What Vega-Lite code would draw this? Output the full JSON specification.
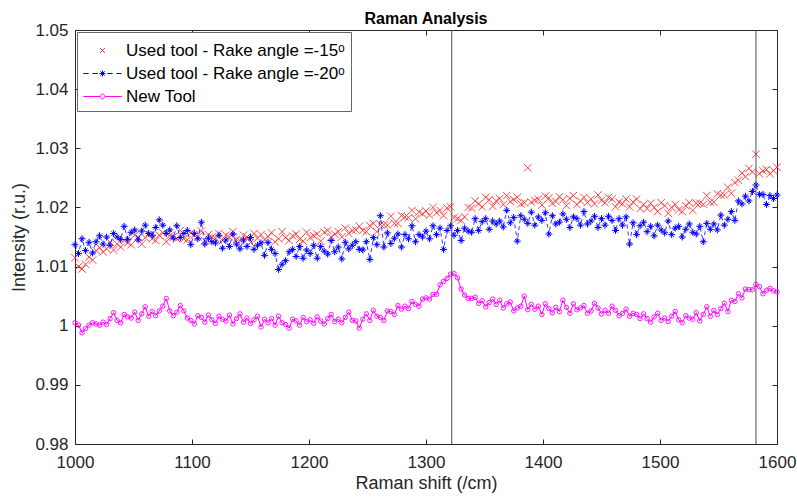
{
"$schema": "https://vega.github.io/schema/vega-lite/v6.json",
"width": 702, "height": 414,
"autosize": {"type": "none"},
"padding": {"left": 75, "top": 30, "right": 20, "bottom": 55},
"background": "white",
"title": {"text": "Raman Analysis", "font": "Liberation Sans", "fontSize": 16, "fontWeight": "bold", "color": "#000000", "anchor": "middle", "offset": -6},
"config": {"view": {"stroke": "#262626", "strokeWidth": 1}},
"datasets": {"spec": [
{"x":1000,"r":1.0115,"b":1.0137,"m":1.0005},{"x":1003,"r":1.0100,"b":1.0122,"m":1.0001},{"x":1006,"r":1.0096,"b":1.0147,"m":0.9988},{"x":1009,"r":1.0104,"b":1.0127,"m":0.9995},{"x":1012,"r":1.0116,"b":1.0141,"m":1.0001},{"x":1015,"r":1.0111,"b":1.0123,"m":1.0005},{"x":1018,"r":1.0127,"b":1.0142,"m":1.0003},{"x":1021,"r":1.0132,"b":1.0152,"m":1.0001},{"x":1024,"r":1.0125,"b":1.0138,"m":1.0006},{"x":1027,"r":1.0130,"b":1.0150,"m":1.0002},
{"x":1030,"r":1.0141,"b":1.0136,"m":1.0012},{"x":1033,"r":1.0128,"b":1.0156,"m":1.0022},{"x":1036,"r":1.0138,"b":1.0150,"m":1.0009},{"x":1039,"r":1.0133,"b":1.0146,"m":1.0005},{"x":1042,"r":1.0144,"b":1.0168,"m":1.0019},{"x":1045,"r":1.0140,"b":1.0146,"m":1.0015},{"x":1048,"r":1.0137,"b":1.0158,"m":1.0013},{"x":1051,"r":1.0153,"b":1.0162,"m":1.0023},{"x":1054,"r":1.0149,"b":1.0145,"m":1.0009},{"x":1057,"r":1.0138,"b":1.0160,"m":1.0020},
{"x":1060,"r":1.0149,"b":1.0170,"m":1.0032},{"x":1063,"r":1.0154,"b":1.0156,"m":1.0016},{"x":1066,"r":1.0147,"b":1.0153,"m":1.0024},{"x":1069,"r":1.0144,"b":1.0166,"m":1.0017},{"x":1072,"r":1.0153,"b":1.0179,"m":1.0025},{"x":1075,"r":1.0157,"b":1.0170,"m":1.0033},{"x":1078,"r":1.0142,"b":1.0156,"m":1.0046},{"x":1081,"r":1.0152,"b":1.0162,"m":1.0025},{"x":1084,"r":1.0150,"b":1.0148,"m":1.0017},{"x":1087,"r":1.0147,"b":1.0169,"m":1.0023},
{"x":1090,"r":1.0161,"b":1.0149,"m":1.0034},{"x":1093,"r":1.0147,"b":1.0156,"m":1.0025},{"x":1096,"r":1.0145,"b":1.0161,"m":1.0013},{"x":1099,"r":1.0157,"b":1.0137,"m":1.0009},{"x":1102,"r":1.0153,"b":1.0156,"m":1.0003},{"x":1105,"r":1.0150,"b":1.0147,"m":1.0017},{"x":1108,"r":1.0160,"b":1.0175,"m":1.0014},{"x":1111,"r":1.0144,"b":1.0138,"m":1.0006},{"x":1114,"r":1.0154,"b":1.0148,"m":1.0018},{"x":1117,"r":1.0150,"b":1.0142,"m":1.0010},
{"x":1120,"r":1.0148,"b":1.0140,"m":1.0004},{"x":1123,"r":1.0156,"b":1.0153,"m":1.0016},{"x":1126,"r":1.0144,"b":1.0131,"m":1.0011},{"x":1129,"r":1.0153,"b":1.0145,"m":1.0008},{"x":1132,"r":1.0150,"b":1.0134,"m":1.0018},{"x":1135,"r":1.0159,"b":1.0155,"m":1.0003},{"x":1138,"r":1.0146,"b":1.0138,"m":1.0012},{"x":1141,"r":1.0144,"b":1.0130,"m":1.0020},{"x":1144,"r":1.0153,"b":1.0145,"m":1.0006},{"x":1147,"r":1.0150,"b":1.0134,"m":1.0013},
{"x":1150,"r":1.0141,"b":1.0149,"m":1.0004},{"x":1153,"r":1.0156,"b":1.0129,"m":1.0010},{"x":1156,"r":1.0148,"b":1.0136,"m":1.0016},{"x":1159,"r":1.0154,"b":1.0140,"m":0.9998},{"x":1162,"r":1.0145,"b":1.0119,"m":1.0011},{"x":1165,"r":1.0151,"b":1.0141,"m":1.0005},{"x":1168,"r":1.0157,"b":1.0129,"m":1.0012},{"x":1171,"r":1.0142,"b":1.0122,"m":1.0001},{"x":1174,"r":1.0147,"b":1.0095,"m":1.0016},{"x":1177,"r":1.0159,"b":1.0104,"m":1.0005},
{"x":1180,"r":1.0149,"b":1.0110,"m":1.0002},{"x":1183,"r":1.0144,"b":1.0125,"m":0.9996},{"x":1186,"r":1.0152,"b":1.0129,"m":1.0011},{"x":1189,"r":1.0155,"b":1.0117,"m":1.0008},{"x":1192,"r":1.0146,"b":1.0134,"m":1.0001},{"x":1195,"r":1.0143,"b":1.0114,"m":1.0014},{"x":1198,"r":1.0158,"b":1.0128,"m":1.0007},{"x":1201,"r":1.0149,"b":1.0122,"m":1.0010},{"x":1204,"r":1.0152,"b":1.0136,"m":1.0004},{"x":1207,"r":1.0155,"b":1.0114,"m":1.0015},
{"x":1210,"r":1.0143,"b":1.0134,"m":1.0008},{"x":1213,"r":1.0158,"b":1.0126,"m":1.0003},{"x":1216,"r":1.0161,"b":1.0121,"m":1.0012},{"x":1219,"r":1.0150,"b":1.0144,"m":1.0019},{"x":1222,"r":1.0155,"b":1.0125,"m":1.0007},{"x":1225,"r":1.0159,"b":1.0133,"m":1.0011},{"x":1228,"r":1.0150,"b":1.0113,"m":1.0005},{"x":1231,"r":1.0165,"b":1.0141,"m":1.0014},{"x":1234,"r":1.0156,"b":1.0130,"m":1.0023},{"x":1237,"r":1.0161,"b":1.0136,"m":1.0009},
{"x":1240,"r":1.0162,"b":1.0142,"m":1.0008},{"x":1243,"r":1.0168,"b":1.0129,"m":0.9996},{"x":1246,"r":1.0161,"b":1.0128,"m":1.0011},{"x":1249,"r":1.0159,"b":1.0142,"m":1.0020},{"x":1252,"r":1.0169,"b":1.0112,"m":1.0009},{"x":1255,"r":1.0173,"b":1.0149,"m":1.0026},{"x":1258,"r":1.0159,"b":1.0137,"m":1.0016},{"x":1261,"r":1.0171,"b":1.0186,"m":1.0014},{"x":1264,"r":1.0171,"b":1.0133,"m":1.0009},{"x":1267,"r":1.0170,"b":1.0157,"m":1.0025},
{"x":1270,"r":1.0185,"b":1.0139,"m":1.0024},{"x":1273,"r":1.0173,"b":1.0148,"m":1.0019},{"x":1276,"r":1.0173,"b":1.0155,"m":1.0034},{"x":1279,"r":1.0186,"b":1.0133,"m":1.0028},{"x":1282,"r":1.0184,"b":1.0154,"m":1.0033},{"x":1285,"r":1.0183,"b":1.0147,"m":1.0029},{"x":1288,"r":1.0195,"b":1.0169,"m":1.0041},{"x":1291,"r":1.0181,"b":1.0142,"m":1.0036},{"x":1294,"r":1.0192,"b":1.0154,"m":1.0033},{"x":1297,"r":1.0189,"b":1.0150,"m":1.0045},
{"x":1300,"r":1.0194,"b":1.0160,"m":1.0047},{"x":1303,"r":1.0187,"b":1.0147,"m":1.0045},{"x":1306,"r":1.0200,"b":1.0169,"m":1.0053},{"x":1309,"r":1.0191,"b":1.0154,"m":1.0053},{"x":1312,"r":1.0195,"b":1.0165,"m":1.0069},{"x":1315,"r":1.0186,"b":1.0129,"m":1.0075},{"x":1318,"r":1.0199,"b":1.0161,"m":1.0080},{"x":1321,"r":1.0201,"b":1.0169,"m":1.0087},{"x":1324,"r":1.0183,"b":1.0153,"m":1.0088},{"x":1327,"r":1.0181,"b":1.0161,"m":1.0081},
{"x":1330,"r":1.0178,"b":1.0144,"m":1.0062},{"x":1333,"r":1.0184,"b":1.0165,"m":1.0052},{"x":1336,"r":1.0200,"b":1.0160,"m":1.0046},{"x":1339,"r":1.0199,"b":1.0158,"m":1.0046},{"x":1342,"r":1.0211,"b":1.0181,"m":1.0048},{"x":1345,"r":1.0206,"b":1.0161,"m":1.0038},{"x":1348,"r":1.0201,"b":1.0176,"m":1.0042},{"x":1351,"r":1.0217,"b":1.0181,"m":1.0032},{"x":1354,"r":1.0213,"b":1.0163,"m":1.0039},{"x":1357,"r":1.0202,"b":1.0177,"m":1.0045},
{"x":1360,"r":1.0211,"b":1.0172,"m":1.0036},{"x":1363,"r":1.0215,"b":1.0177,"m":1.0043},{"x":1366,"r":1.0205,"b":1.0167,"m":1.0030},{"x":1369,"r":1.0220,"b":1.0195,"m":1.0037},{"x":1372,"r":1.0210,"b":1.0174,"m":1.0040},{"x":1375,"r":1.0213,"b":1.0183,"m":1.0025},{"x":1378,"r":1.0217,"b":1.0143,"m":1.0030},{"x":1381,"r":1.0206,"b":1.0186,"m":1.0033},{"x":1384,"r":1.0208,"b":1.0180,"m":1.0050},{"x":1387,"r":1.0267,"b":1.0173,"m":1.0027},
{"x":1390,"r":1.0209,"b":1.0192,"m":1.0036},{"x":1393,"r":1.0212,"b":1.0170,"m":1.0028},{"x":1396,"r":1.0214,"b":1.0184,"m":1.0033},{"x":1399,"r":1.0204,"b":1.0178,"m":1.0019},{"x":1402,"r":1.0219,"b":1.0191,"m":1.0037},{"x":1405,"r":1.0216,"b":1.0155,"m":1.0029},{"x":1408,"r":1.0207,"b":1.0186,"m":1.0022},{"x":1411,"r":1.0210,"b":1.0172,"m":1.0031},{"x":1414,"r":1.0218,"b":1.0175,"m":1.0024},{"x":1417,"r":1.0213,"b":1.0189,"m":1.0043},
{"x":1420,"r":1.0203,"b":1.0180,"m":1.0031},{"x":1423,"r":1.0215,"b":1.0166,"m":1.0021},{"x":1426,"r":1.0220,"b":1.0184,"m":1.0037},{"x":1429,"r":1.0205,"b":1.0181,"m":1.0027},{"x":1432,"r":1.0211,"b":1.0170,"m":1.0030},{"x":1435,"r":1.0217,"b":1.0193,"m":1.0034},{"x":1438,"r":1.0208,"b":1.0172,"m":1.0021},{"x":1441,"r":1.0214,"b":1.0177,"m":1.0025},{"x":1444,"r":1.0206,"b":1.0185,"m":1.0038},{"x":1447,"r":1.0221,"b":1.0166,"m":1.0030},
{"x":1450,"r":1.0212,"b":1.0181,"m":1.0020},{"x":1453,"r":1.0208,"b":1.0170,"m":1.0026},{"x":1456,"r":1.0217,"b":1.0185,"m":1.0021},{"x":1459,"r":1.0214,"b":1.0178,"m":1.0033},{"x":1462,"r":1.0201,"b":1.0161,"m":1.0026},{"x":1465,"r":1.0209,"b":1.0181,"m":1.0017},{"x":1468,"r":1.0206,"b":1.0170,"m":1.0021},{"x":1471,"r":1.0214,"b":1.0184,"m":1.0028},{"x":1474,"r":1.0201,"b":1.0138,"m":1.0016},{"x":1477,"r":1.0209,"b":1.0174,"m":1.0021},
{"x":1480,"r":1.0214,"b":1.0154,"m":1.0019},{"x":1483,"r":1.0198,"b":1.0169,"m":1.0012},{"x":1486,"r":1.0205,"b":1.0175,"m":1.0020},{"x":1489,"r":1.0198,"b":1.0159,"m":1.0012},{"x":1492,"r":1.0207,"b":1.0168,"m":1.0006},{"x":1495,"r":1.0200,"b":1.0152,"m":1.0015},{"x":1498,"r":1.0193,"b":1.0170,"m":1.0021},{"x":1501,"r":1.0208,"b":1.0162,"m":1.0009},{"x":1504,"r":1.0203,"b":1.0157,"m":1.0013},{"x":1507,"r":1.0190,"b":1.0177,"m":1.0007},
{"x":1510,"r":1.0200,"b":1.0154,"m":1.0016},{"x":1513,"r":1.0205,"b":1.0165,"m":1.0024},{"x":1516,"r":1.0196,"b":1.0168,"m":1.0010},{"x":1519,"r":1.0193,"b":1.0150,"m":1.0005},{"x":1522,"r":1.0203,"b":1.0163,"m":1.0017},{"x":1525,"r":1.0208,"b":1.0172,"m":1.0013},{"x":1528,"r":1.0195,"b":1.0158,"m":1.0011},{"x":1531,"r":1.0207,"b":1.0155,"m":1.0022},{"x":1534,"r":1.0207,"b":1.0168,"m":1.0008},{"x":1537,"r":1.0205,"b":1.0142,"m":1.0019},
{"x":1540,"r":1.0220,"b":1.0173,"m":1.0032},{"x":1543,"r":1.0209,"b":1.0163,"m":1.0016},{"x":1546,"r":1.0209,"b":1.0172,"m":1.0026},{"x":1549,"r":1.0223,"b":1.0162,"m":1.0019},{"x":1552,"r":1.0221,"b":1.0187,"m":1.0029},{"x":1555,"r":1.0221,"b":1.0170,"m":1.0038},{"x":1558,"r":1.0234,"b":1.0180,"m":1.0024},{"x":1561,"r":1.0224,"b":1.0193,"m":1.0043},{"x":1564,"r":1.0242,"b":1.0178,"m":1.0041},{"x":1567,"r":1.0246,"b":1.0211,"m":1.0054},
{"x":1570,"r":1.0258,"b":1.0206,"m":1.0047},{"x":1573,"r":1.0252,"b":1.0219,"m":1.0062},{"x":1576,"r":1.0266,"b":1.0211,"m":1.0061},{"x":1579,"r":1.0260,"b":1.0227,"m":1.0061},{"x":1582,"r":1.0290,"b":1.0238,"m":1.0070},{"x":1585,"r":1.0257,"b":1.0222,"m":1.0066},{"x":1588,"r":1.0262,"b":1.0222,"m":1.0054},{"x":1591,"r":1.0264,"b":1.0205,"m":1.0060},{"x":1594,"r":1.0257,"b":1.0220,"m":1.0063},{"x":1597,"r":1.0262,"b":1.0215,"m":1.0059},
{"x":1600,"r":1.0268,"b":1.0221,"m":1.0057}
]},
"resolve": {"axis": {"x": "independent", "y": "independent"}},
"layer": [
{"data": {"name": "spec"},
 "mark": {"type": "point", "shape": "M-1,-1L1,1M-1,1L1,-1", "filled": false, "color": "#ff3030", "strokeWidth": 0.9, "size": 56, "opacity": 1},
 "encoding": {
  "x": {"field": "x", "type": "quantitative", "scale": {"domain": [1000, 1600], "nice": false, "zero": false},
   "axis": {"orient": "bottom", "values": [1000,1100,1200,1300,1400,1500,1600], "format": "d", "domain": false, "grid": false, "tickSize": -5, "tickColor": "#262626", "labelPadding": 15, "labelFont": "Liberation Sans", "labelFontSize": 17, "labelColor": "#262626", "labelFlush": false, "title": "Raman shift (/cm)", "titleFont": "Liberation Sans", "titleFontSize": 18, "titleFontWeight": "normal", "titleColor": "#262626", "titlePadding": 4}},
  "y": {"field": "r", "type": "quantitative", "scale": {"domain": [0.98, 1.05], "nice": false, "zero": false},
   "axis": {"orient": "left", "values": [0.98,0.99,1,1.01,1.02,1.03,1.04,1.05], "format": "~g", "domain": false, "grid": false, "tickSize": -5, "tickColor": "#262626", "labelPadding": 12, "labelFont": "Liberation Sans", "labelFontSize": 17, "labelColor": "#262626", "labelFlush": false, "title": "Intensity (r.u.)", "titleFont": "Liberation Sans", "titleFontSize": 18, "titleFontWeight": "normal", "titleColor": "#262626", "titlePadding": 6}}
 }},
{"data": {"name": "spec"},
 "mark": {"type": "line", "color": "#0000ff", "strokeWidth": 0.8, "strokeDash": [4, 3]},
 "encoding": {
  "x": {"field": "x", "type": "quantitative", "scale": {"domain": [1000, 1600], "nice": false, "zero": false}, "axis": null},
  "y": {"field": "b", "type": "quantitative", "scale": {"domain": [0.98, 1.05], "nice": false, "zero": false}, "axis": null}
 }},
{"data": {"name": "spec"},
 "mark": {"type": "point", "shape": "M-1,0H1M0,-1V1M-0.6,-0.6L0.6,0.6M-0.6,0.6L0.6,-0.6", "filled": false, "color": "#0000ff", "strokeWidth": 1, "size": 49, "opacity": 1},
 "encoding": {
  "x": {"field": "x", "type": "quantitative", "scale": {"domain": [1000, 1600], "nice": false, "zero": false}, "axis": null},
  "y": {"field": "b", "type": "quantitative", "scale": {"domain": [0.98, 1.05], "nice": false, "zero": false}, "axis": null}
 }},
{"data": {"name": "spec"},
 "mark": {"type": "line", "color": "#ff00ff", "strokeWidth": 1},
 "encoding": {
  "x": {"field": "x", "type": "quantitative", "scale": {"domain": [1000, 1600], "nice": false, "zero": false}, "axis": null},
  "y": {"field": "m", "type": "quantitative", "scale": {"domain": [0.98, 1.05], "nice": false, "zero": false}, "axis": null}
 }},
{"data": {"name": "spec"},
 "mark": {"type": "point", "shape": "circle", "filled": false, "color": "#ff00ff", "strokeWidth": 0.9, "size": 20, "opacity": 1},
 "encoding": {
  "x": {"field": "x", "type": "quantitative", "scale": {"domain": [1000, 1600], "nice": false, "zero": false}, "axis": null},
  "y": {"field": "m", "type": "quantitative", "scale": {"domain": [0.98, 1.05], "nice": false, "zero": false},
   "axis": {"orient": "right", "values": [0.98,0.99,1,1.01,1.02,1.03,1.04,1.05], "labels": false, "domain": false, "grid": false, "tickSize": -5, "tickColor": "#262626", "title": null}}
 }},
{"data": {"values": [{"v": 1322}, {"v": 1582}]},
 "mark": {"type": "rule", "color": "#4d4d4d", "strokeWidth": 1},
 "encoding": {
  "x": {"field": "v", "type": "quantitative", "scale": {"domain": [1000, 1600], "nice": false, "zero": false},
   "axis": {"orient": "top", "values": [1000,1100,1200,1300,1400,1500,1600], "labels": false, "domain": false, "grid": false, "tickSize": -5, "tickColor": "#262626", "title": null}}
 }},
{"data": {"values": [{"s": "Used tool - Rake angle =-15ᵒ"}, {"s": "Used tool - Rake angle =-20ᵒ"}, {"s": "New Tool"}]},
 "mark": {"type": "point", "filled": false, "opacity": 0},
 "encoding": {
  "color": {"field": "s", "type": "nominal",
   "scale": {"domain": ["Used tool - Rake angle =-15ᵒ", "Used tool - Rake angle =-20ᵒ", "New Tool"], "range": ["#ff3030", "#0000ff", "#ff00ff"]},
   "legend": {"title": null, "orient": "none", "legendX": 2, "legendY": 2, "direction": "vertical", "fillColor": "white", "strokeColor": "#666666", "padding": 6, "symbolSize": 576, "symbolOffset": 7, "symbolStrokeWidth": 1, "symbolOpacity": 1, "labelOffset": 11, "labelFont": "Liberation Sans", "labelFontSize": 17, "labelColor": "#000000", "labelLimit": 400, "rowPadding": 2, "cornerRadius": 0}},
  "shape": {"field": "s", "type": "nominal",
   "scale": {"domain": ["Used tool - Rake angle =-15ᵒ", "Used tool - Rake angle =-20ᵒ", "New Tool"],
    "range": ["M-0.2,-0.2L0.2,0.2M-0.2,0.2L0.2,-0.2",
              "M-1.6,0H-1.15M-0.85,0H-0.4M0.4,0H0.85M1.15,0H1.6M-0.25,0H0.25M0,-0.25V0.25M-0.18,-0.18L0.18,0.18M-0.18,0.18L0.18,-0.18",
              "M-1.6,0H-0.2M0.2,0H1.6M0.2,0A0.2,0.2 0 1,1 -0.2,0A0.2,0.2 0 1,1 0.2,0"]}}
 }}
]
}
